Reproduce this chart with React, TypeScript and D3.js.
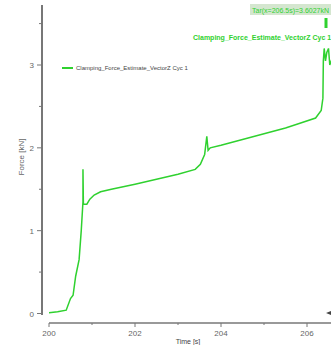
import React from "react";
import * as d3 from "d3";

const times = [200.0, 200.2, 200.4, 200.5, 200.56, 200.62, 200.7, 200.75, 200.79, 200.79, 200.8, 200.88, 200.95, 201.05, 201.2, 201.45, 202.0, 202.5, 203.0, 203.4, 203.52, 203.62, 203.67, 203.7, 203.75, 204.0, 204.5, 205.0, 205.5, 205.8, 206.2, 206.33, 206.37, 206.38, 206.4, 206.43, 206.46, 206.5, 206.53, 206.6];
const force = [0.01, 0.02, 0.04, 0.18, 0.22, 0.45, 0.65, 1.0, 1.35, 1.74, 1.32, 1.32, 1.38, 1.43, 1.47, 1.5, 1.56, 1.62, 1.68, 1.74, 1.8, 1.92, 2.14, 1.97, 2.0, 2.03, 2.1, 2.17, 2.24, 2.29, 2.36, 2.45, 2.6, 3.05, 3.2, 3.05, 3.15, 3.2, 3.0, 3.1];
const xTicks = [200, 202, 204, 206];
const xMinor = [201, 203, 205];
const yTicks = [0, 1, 2, 3];
const yMinor = [0.5, 1.5, 2.5, 3.5];
const seriesName = "Clamping_Force_Estimate_VectorZ Cyc 1";
const cursorText = "Tar(x=206.5s)=3.6027kN";

const GREEN = "#2fd12f";

export default function App() {
  const x = d3.scaleLinear().domain([200, 206]).range([49, 307]);
  const y = d3.scaleLinear().domain([0, 3]).range([313.5, 65]);
  const pts = times.map((t, i) => [t, force[i]] as [number, number]);
  const line = d3.line<[number, number]>().x((d) => x(d[0])).y((d) => y(d[1]));
  return (
    <svg width={331} height={345} style={{ position: "absolute", left: 0, top: 0, background: "#fff" }}
      fontFamily="'Liberation Sans', Arial, sans-serif">
      <defs>
        <clipPath id="plot"><rect x={43} y={0} width={288} height={320} /></clipPath>
      </defs>
      {/* y axis */}
      <line x1={42} x2={42} y1={5} y2={315} stroke="#777" strokeWidth={2} />
      {yTicks.map((v) => (
        <g key={v}>
          <line x1={37} x2={42} y1={y(v)} y2={y(v)} stroke="#777" strokeWidth={1} />
          <text x={34} y={y(v) + 3} fontSize={8} fill="#666" textAnchor="end">{v}</text>
        </g>
      ))}
      {yMinor.map((v) => (
        <line key={v} x1={39} x2={42} y1={y(v)} y2={y(v)} stroke="#777" strokeWidth={1} />
      ))}
      <text transform={`translate(24,157) rotate(-90)`} fontSize={8} fill="#666" textAnchor="middle">Force [kN]</text>
      {/* x axis */}
      <line x1={49} x2={331} y1={323} y2={323} stroke="#777" strokeWidth={1.5} />
      {xTicks.map((v) => (
        <g key={v}>
          <line x1={x(v)} x2={x(v)} y1={323} y2={327} stroke="#777" strokeWidth={1} />
          <text x={x(v)} y={336} fontSize={8} fill="#666" textAnchor="middle">{v}</text>
        </g>
      ))}
      {xMinor.map((v) => (
        <line key={v} x1={x(v)} x2={x(v)} y1={323} y2={325} stroke="#777" strokeWidth={1} />
      ))}
      <text x={188} y={344} fontSize={7} fill="#444" textAnchor="middle">Time [s]</text>
      <path d="M326,313 L331,311 L331,315 Z" fill="#444" />
      {/* series */}
      <path d={line(pts) || ""} fill="none" stroke={GREEN} strokeWidth={1.5} clipPath="url(#plot)" />
      {/* legend */}
      <line x1={62} x2={73} y1={68} y2={68} stroke={GREEN} strokeWidth={2} />
      <text x={76} y={70} fontSize={6} fill="#444">{seriesName}</text>
      {/* cursor annotation */}
      <rect x={250} y={4} width={81} height={11} fill="#d4e6cf" />
      <text x={252} y={12.5} fontSize={7} fill={GREEN}>{cursorText}</text>
      <line x1={326} x2={326} y1={18} y2={28} stroke={GREEN} strokeWidth={3} />
      <text x={193} y={40} fontSize={7} fontWeight="bold" fill={GREEN}>{seriesName}</text>
    </svg>
  );
}
